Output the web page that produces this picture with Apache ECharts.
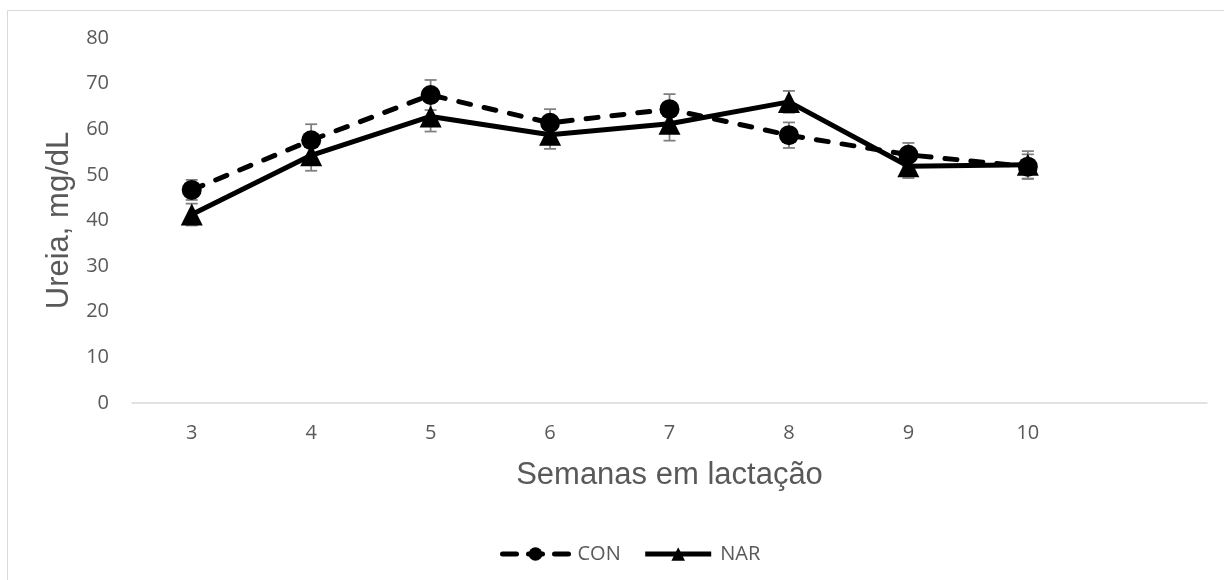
<!DOCTYPE html>
<html>
<head>
<meta charset="utf-8">
<script src="https://cdn.jsdelivr.net/npm/echarts@6/dist/echarts.min.js"></script>
<style>
html,body{margin:0;padding:0;background:#fff;}
#chart{width:1224px;height:580px;}
</style>
</head>
<body>
<div id="chart"></div>
<script>
const categories = ['3', '4', '5', '6', '7', '8', '9', '10', ''];
const conValues = [46.7, 57.6, 67.5, 61.4, 64.4, 58.7, 54.4, 51.8];
const conErrors = [2.2, 3.5, 3.3, 3.0, 3.3, 2.8, 2.6, 2.7];
const narValues = [41.3, 54.3, 62.8, 58.8, 61.2, 66.0, 51.9, 52.2];
const narErrors = [2.4, 3.4, 3.3, 3.1, 3.7, 2.4, 2.6, 3.0];
const yTicks = { min: 0, max: 80, interval: 10 };

function errData(vals, errs) {
  return vals.map((v, i) => [i, v - errs[i], v + errs[i]]);
}

function errRender(params, api) {
  const x = api.value(0);
  const lo = api.coord([x, api.value(1)]);
  const hi = api.coord([x, api.value(2)]);
  const half = 6;
  const style = { stroke: '#7f7f7f', lineWidth: 1.75, fill: null };
  return {
    type: 'group',
    children: [
      { type: 'line', shape: { x1: lo[0], y1: lo[1], x2: hi[0], y2: hi[1] }, style: style },
      { type: 'line', shape: { x1: lo[0] - half, y1: lo[1], x2: lo[0] + half, y2: lo[1] }, style: style },
      { type: 'line', shape: { x1: hi[0] - half, y1: hi[1], x2: hi[0] + half, y2: hi[1] }, style: style }
    ]
  };
}

const conLine = { color: '#000000', width: 5, type: [12, 14], cap: 'round' };
const narLine = { color: '#000000', width: 5, type: 'solid' };

const chart = echarts.init(document.getElementById('chart'), null, { renderer: 'canvas' });
chart.setOption({
  animation: false,
  backgroundColor: '#ffffff',
  graphic: [{
    type: 'rect',
    shape: { x: 7.5, y: 10.5, width: 1400, height: 800 },
    style: { fill: null, stroke: '#d9d9d9', lineWidth: 1 },
    silent: true, z: -10
  }],
  grid: { left: 132, right: 17, top: 38, bottom: 177 },
  legend: {
    data: [
      { name: 'CON', lineStyle: { color: '#000000', width: 5, type: [14, 12], cap: 'round' }, itemStyle: { color: '#000000' } },
      { name: 'NAR', lineStyle: narLine, itemStyle: { color: '#000000' } }
    ],
    left: 495,
    top: 539,
    itemWidth: 66,
    itemHeight: 17,
    itemGap: 22,
    textStyle: { color: '#595959', fontSize: 20, fontFamily: 'Open Sans', padding: [0, 0, 0, 4] }
  },
  xAxis: {
    type: 'category',
    data: categories,
    boundaryGap: true,
    axisLine: { lineStyle: { color: '#d9d9d9', width: 1.5 } },
    axisTick: { show: false },
    axisLabel: { color: '#595959', fontSize: 20, fontFamily: 'Open Sans', margin: 20 },
    splitLine: { show: false },
    name: 'Semanas em lactação',
    nameLocation: 'middle',
    nameGap: 57,
    nameTextStyle: { color: '#595959', fontSize: 31, fontFamily: 'Liberation Sans' }
  },
  yAxis: {
    type: 'value',
    min: yTicks.min,
    max: yTicks.max,
    interval: yTicks.interval,
    axisLine: { show: false },
    axisTick: { show: false },
    splitLine: { show: false },
    axisLabel: { color: '#595959', fontSize: 20, fontFamily: 'Open Sans', margin: 23 },
    name: 'Ureia, mg/dL',
    nameLocation: 'middle',
    nameGap: 56,
    nameTextStyle: { color: '#595959', fontSize: 31, fontFamily: 'Liberation Sans' }
  },
  series: [
    {
      name: 'CONerr', type: 'custom', renderItem: errRender,
      data: errData(conValues, conErrors), z: 1, silent: true
    },
    {
      name: 'NARerr', type: 'custom', renderItem: errRender,
      data: errData(narValues, narErrors), z: 1, silent: true
    },
    {
      name: 'CON', type: 'line', data: conValues, z: 3,
      symbol: 'circle', symbolSize: 20,
      itemStyle: { color: '#000000' },
      lineStyle: conLine
    },
    {
      name: 'NAR', type: 'line', data: narValues, z: 3,
      symbol: 'triangle', symbolSize: 22,
      itemStyle: { color: '#000000' },
      lineStyle: narLine
    }
  ]
});
</script>
</body>
</html>
